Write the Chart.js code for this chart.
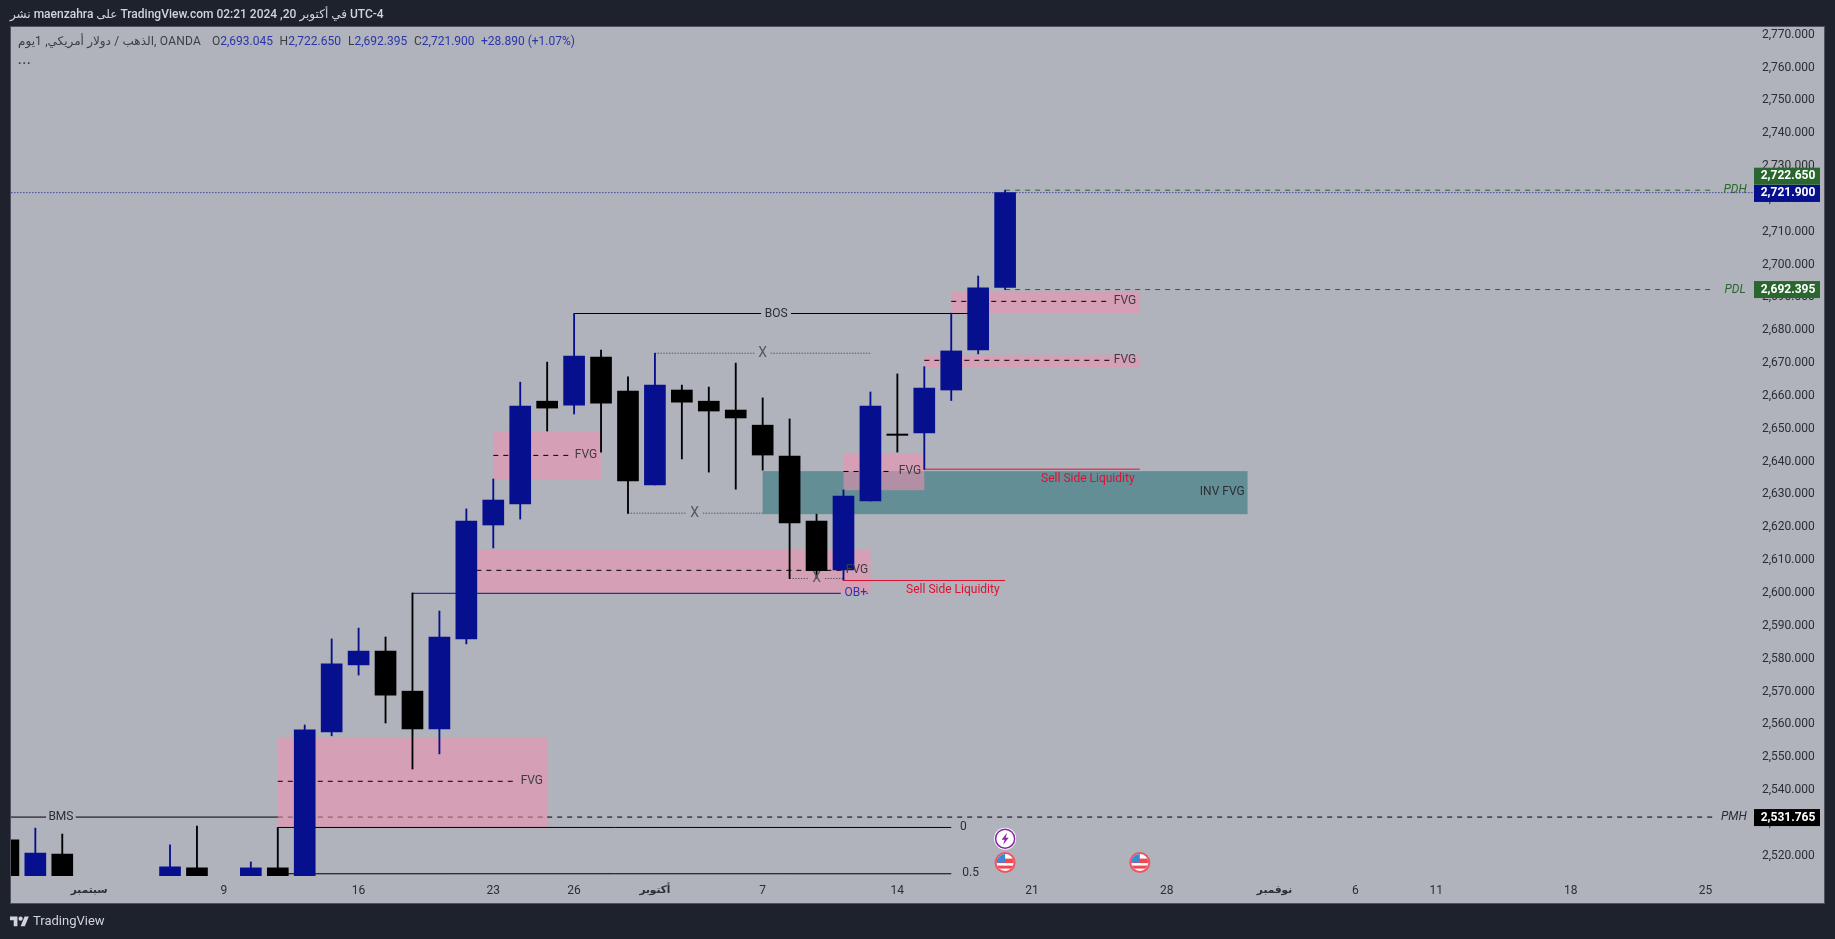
<!DOCTYPE html>
<html lang="ar">
<head>
<meta charset="utf-8">
<title>XAUUSD 1D</title>
<style>html,body{margin:0;padding:0;background:#1e222d;overflow:hidden}canvas{display:block}</style>
<script src="https://cdn.jsdelivr.net/npm/chart.js@4"></script>
</head>
<body>
<canvas id="c" width="1835" height="939"></canvas>
<script>
// ---- candle values, one entry per trading day from 28 Aug 2024 ----
const opens  = [2524.8,2505,2520.5,null,null,null,2500,2516.3,null,2505,2516.3,2510,2557.7,2578.1,2582.3,2570.1,2558.6,2586,2620.7,2627.1,2658.4,2657.2,2671.8,2661.5,2632.9,2661.8,2658.4,2655.7,2651.1,2641.7,2621.9,2607,2628,2648.4,2648.7,2661.8,2674,2693.045];
const highs  = [2526,2528.4,2526.6,null,null,null,2523.3,2529,null,2518.1,2528.6,2559.8,2586,2589.3,2586.6,2600,2594.5,2625.6,2634.7,2664.2,2670.3,2685.1,2674,2665.8,2673,2663.3,2662.7,2670,2659.4,2653,2624,2631.4,2661.2,2666.7,2668.9,2685.2,2696.5,2722.65];
const lows   = [2503,2503,2500,null,null,null,2490,2485,null,2500,2505,2505,2556.5,2575,2560.4,2546.4,2551,2584.5,2613.7,2622.5,2649.3,2654.5,2642.9,2624.2,2632.9,2640.8,2636.8,2631.6,2637.4,2604.4,2604.5,2603.9,2628,2642.9,2637.6,2658.6,2672.8,2692.395];
const closes = [2505,2520.8,2503,null,null,null,2516.6,2497,null,2516.3,2510,2558.3,2578.4,2582.3,2568.9,2558.6,2586.6,2621.9,2628.3,2656.9,2656.3,2672.1,2657.8,2634.1,2663.3,2658.1,2655.4,2653.3,2642,2621.3,2606.8,2629.5,2656.9,2648,2662.4,2673.7,2692.9,2721.9];

// ---- axis ticks ----
const priceTicks = [2520,2530,2540,2550,2560,2570,2580,2590,2600,2610,2620,2630,2640,2650,2660,2670,2680,2690,2700,2710,2720,2730,2740,2750,2760,2770];
const timeTickBars = [3,8,13,18,21,24,28,33,38,43,47,50,53,58,63];
const timeTickNames = ['سبتمبر','9','16','23','26','أكتوبر','7','14','21','28','نوفمبر','6','11','18','25'];
const boldTimeTicks = ['سبتمبر','أكتوبر','نوفمبر'];

// ---- drawn zones: from bar, to bar, upper price, lower price ----
const tealZones = [[28,46,2637.1,2624]];
const pinkZones = [[10,20,2556.15,2528.75],[18,22,2649.1,2634.7],[17,32,2613.3,2599.7],[31,34,2642.6,2631.3],[35,42,2691.95,2685.2],[34,42,2672.5,2668.8]];

// ---- drawn levels: from bar, to bar, price, style name ----
const levels = [
 [10,18.8,2542.66,'dash'],[18,20.9,2641.9,'dash'],[17,31,2606.9,'dash'],[31,32.84,2637,'dash'],[35,40.9,2688.8,'dash'],[34,40.9,2670.85,'dash'],
 [21,27.94,2685.1,'solid'],[29.05,36,2685.1,'solid'],
 [24,27.71,2673,'dots'],[28.3,32,2673,'dots'],
 [23,25.15,2624.3,'dots'],[25.78,28,2624.3,'dots'],
 [29,29.72,2604.4,'dots'],[30.31,31,2604.4,'dots'],
 [15,30.9,2599.9,'blue'],[31.85,32,2599.9,'blueDots'],
 [31,37,2603.8,'red'],[34,42,2637.7,'red'],
 [0,1.4,2531.765,'solid'],[2.5,10,2531.765,'solid'],
 [20,63.35,2531.765,'dash'],
 [10,35,2528.6,'solid'],[10,35,2514.5,'solid'],
 [37,63.35,2722.65,'green'],[37,63.35,2692.395,'green'],
 [0,64.8,2721.9,'lastDots']
];
const fadedLevels = [[10,20,2531.765]];

// ---- texts placed on the chart: bar, price, text, style name ----
const chartLabels = [
 [19.43,2542.66,'FVG','fvg'],[21.44,2641.9,'FVG','fvg'],[31.5,2606.9,'FVG','fvg'],[33.47,2637,'FVG','fvg'],[41.45,2688.8,'FVG','fvg'],[41.45,2670.85,'FVG','fvg'],
 [28.5,2685.1,'BOS','dark'],[1.95,2531.765,'BMS','dark'],[45.06,2630.8,'INV FVG','dark'],
 [28,2673,'X','gray'],[25.47,2624.3,'X','gray'],[30,2604.4,'X','gray'],
 [31.46,2599.9,'OB+','blue'],
 [35.06,2601,'Sell Side Liquidity','red'],[40.07,2634.8,'Sell Side Liquidity','red'],
 [35.45,2528.7,'0','dark'],[35.72,2514.8,'0.5','dark'],
 [64.1,2722.65,'PDH','greenItalic'],[64.1,2692.395,'PDL','greenItalic'],[64.05,2531.765,'PMH','darkItalic']
];

// ---- right-hand price tags: price, text, colour, vertical shift ----
const priceTags = [
 [2722.65,'2,722.650','#2a672e',-14],
 [2721.9,'2,721.900','#06108f',0.8],
 [2692.395,'2,692.395','#2a672e',0],
 [2531.765,'2,531.765','#000000',0.5]
];
// ---- event markers: bar, price, kind ----
const eventMarks = [[37,2525.2,'bolt'],[37,2517.9,'flag'],[42,2517.9,'flag']];

const BLUE='#06108f', BLACK='#000000', PANEL='#b0b3bc', FRAME='#1e222d';
const FONT="Roboto, 'DejaVu Sans', sans-serif";
Chart.defaults.font.family = FONT;
Chart.defaults.font.size = 12;

const candleBars = opens.map((o,i)=>i).filter(i=>opens[i]!==null);
const isUp = i => closes[i] >= opens[i];
const candleColors = candleBars.map(i=>isUp(i)?BLUE:BLACK);

const levelStyles = {
 dash:{c:'#000000',d:[5,5],w:1}, solid:{c:'#000000',d:[],w:1}, dots:{c:'#55565f',d:[1.4,1.4],w:1},
 blue:{c:BLUE,d:[],w:1}, blueDots:{c:BLUE,d:[1.5,3],w:1}, red:{c:'#df1030',d:[],w:1},
 green:{c:'#2a672e',d:[5,5],w:1}, lastDots:{c:BLUE,d:[1,2],w:1}
};
const levelDatasets = levels.map(l=>{
 const s=levelStyles[l[3]];
 return {type:'line',order:l[3]==='lastDots'?0:5,data:[{x:l[0],y:l[2]},{x:l[1],y:l[2]}],borderColor:s.c,borderDash:s.d,borderWidth:s.w,pointRadius:0,tension:0,fill:false};
});
const fadedDatasets = fadedLevels.map(l=>({type:'line',order:9,data:[{x:l[0],y:l[2]},{x:l[1],y:l[2]}],borderColor:'#000000',borderDash:[5,5],borderWidth:1,pointRadius:0,fill:false}));

const labelFonts = {
 fvg:{f:'12px '+FONT,c:'#3e3a44'},dark:{f:'12px '+FONT,c:'#2c2d33'},gray:{f:'14px '+FONT,c:'#55565f'},blue:{f:'12px '+FONT,c:'#2a35a8'},
 red:{f:'12px '+FONT,c:'#df1030'},greenItalic:{f:'italic 12px '+FONT,c:'#2a672e'},darkItalic:{f:'italic 12px '+FONT,c:'#2c2d33'}
};

const zonesPlugin = {
 id:'zones',
 beforeDatasetDraw(chart,args){
  if(args.meta.order!==8) return;
  const {ctx,scales:{x,y}}=chart, a=chart.chartArea;
  ctx.save();ctx.beginPath();ctx.rect(a.left,a.top,a.width,a.height);ctx.clip();
  const fill=(z,col)=>{ctx.fillStyle=col;ctx.fillRect(x.getPixelForValue(z[0]),y.getPixelForValue(z[2]),x.getPixelForValue(z[1])-x.getPixelForValue(z[0]),y.getPixelForValue(z[3])-y.getPixelForValue(z[2]));};
  tealZones.forEach(z=>fill(z,'#638e96'));
  pinkZones.forEach(z=>fill(z,'rgba(243,145,176,0.56)'));
  ctx.restore();
 },
 beforeDraw(chart){
  const {ctx}=chart;
  ctx.save();
  ctx.fillStyle=FRAME;ctx.fillRect(0,0,1835,939);
  ctx.fillStyle=PANEL;ctx.fillRect(10,27,1815,876);
  ctx.strokeStyle='#50535e';ctx.lineWidth=1;ctx.strokeRect(10.5,26.5,1814,877);
  ctx.restore();
 },
 afterDatasetsDraw(chart){
  const {ctx,scales:{x,y}}=chart, a=chart.chartArea;
  ctx.save();ctx.beginPath();ctx.rect(a.left,a.top,a.width,a.height);ctx.clip();
  ctx.textAlign='center';ctx.textBaseline='middle';
  chartLabels.forEach(l=>{const s=labelFonts[l[3]];ctx.font=s.f;ctx.fillStyle=s.c;ctx.fillText(l[2],x.getPixelForValue(l[0]),y.getPixelForValue(l[1]));});
  eventMarks.forEach(m=>drawMark(ctx,x.getPixelForValue(m[0]),y.getPixelForValue(m[1]),m[2]));
  ctx.restore();
 },
 afterDraw(chart){
  const {ctx,scales:{y}}=chart;
  ctx.save();
  ctx.textBaseline='middle';ctx.textAlign='left';ctx.direction='ltr';
  // tags
  priceTags.forEach(t=>{
   const py=y.getPixelForValue(t[0])+t[3];
   ctx.fillStyle=t[2];ctx.fillRect(1754,py-8.5,66,17);
   ctx.fillStyle='#ffffff';ctx.font='bold 12px '+FONT;ctx.textAlign='center';ctx.fillText(t[1],1788,py);
  });
  ctx.textAlign='left';
  // header
  ctx.font='500 12px '+FONT;ctx.fillStyle='#d1d4dc';
  ctx.fillText('نشر maenzahra على TradingView.com في أكتوبر 20, 2024 02:21 UTC-4',10,15);
  // legend line
  ctx.font='12px '+FONT;ctx.fillStyle='#3c3d44';
  ctx.letterSpacing='0.25px';
  ctx.fillText('الذهب / دولار أمريكي, 1يوم, OANDA',18,42);
  ctx.letterSpacing='0px';
  const ohlc=[['O','2,693.045',212],['H','2,722.650',279.6],['L','2,692.395',348],['C','2,721.900',414]];
  ohlc.forEach(o=>{
   ctx.fillStyle='#3c3d44';ctx.fillText(o[0],o[2],42);
   const w=ctx.measureText(o[0]).width;
   ctx.fillStyle='#2a35a8';ctx.fillText(o[1],o[2]+w,42);
  });
  ctx.fillStyle='#2a35a8';ctx.fillText('+28.890 (+1.07%)',481,42);
  ctx.fillStyle='#3c3d44';ctx.font='bold 12px '+FONT;ctx.letterSpacing='1px';ctx.fillText('...',18,60.5);ctx.letterSpacing='0px';
  // logo
  ctx.save();ctx.translate(10,914.5);ctx.scale(.53,.53);ctx.fillStyle='#d1d4dc';
  ctx.fill(new Path2D('M14 22H7V11H0V4h14v18zM28 22h-8l7.5-18h8L28 22z'));
  ctx.beginPath();ctx.arc(20,8,4,0,Math.PI*2);ctx.fill();ctx.restore();
  ctx.font='13px '+FONT;ctx.fillStyle='#d1d4dc';ctx.fillText('TradingView',33,921.5);
  ctx.restore();
 }
};
function drawMark(ctx,cx,cy,kind){
 ctx.save();
 if(kind==='bolt'){
  ctx.beginPath();ctx.arc(cx,cy,11,0,Math.PI*2);ctx.fillStyle='#ffffff';ctx.fill();
  ctx.beginPath();ctx.arc(cx,cy,9.5,0,Math.PI*2);ctx.strokeStyle='#8e24aa';ctx.lineWidth=1.5;ctx.stroke();
  ctx.fillStyle='#8e24aa';ctx.beginPath();
  ctx.moveTo(cx+2,cy-6);ctx.lineTo(cx-3.5,cy+1);ctx.lineTo(cx-.5,cy+1);ctx.lineTo(cx-2,cy+6);ctx.lineTo(cx+3.5,cy-1);ctx.lineTo(cx+.5,cy-1);ctx.closePath();ctx.fill();
 }else{
  ctx.beginPath();ctx.arc(cx,cy,10.5,0,Math.PI*2);ctx.fillStyle='#f0555f';ctx.fill();
  ctx.beginPath();ctx.arc(cx,cy,8.5,0,Math.PI*2);ctx.fillStyle='#ffffff';ctx.fill();ctx.clip();
  ctx.fillStyle='#ef4a53';ctx.fillRect(cx-9,cy-4,18,4.5);ctx.fillRect(cx-9,cy+3,18,3);
  ctx.fillStyle='#3b8ad8';ctx.fillRect(cx-9,cy-9,9,9);
 }
 ctx.restore();
}

new Chart(document.getElementById('c'),{
 type:'bar',
 plugins:[zonesPlugin],
 data:{datasets:[
  ...fadedDatasets,
  {type:'line',order:8,data:[],pointRadius:0,borderWidth:0},
  ...levelDatasets,
  {type:'bar',order:3,grouped:false,barThickness:1.2,borderWidth:0,
   data:candleBars.map(i=>({x:i,y:[lows[i],highs[i]]})),backgroundColor:candleColors},
  {type:'bar',order:2,grouped:false,barThickness:21,borderWidth:0,minBarLength:1,
   data:candleBars.map(i=>({x:i,y:[Math.min(opens[i],closes[i]),Math.max(opens[i],closes[i])]})),backgroundColor:candleColors}
 ]},
 options:{
  responsive:false,animation:false,devicePixelRatio:1,
  layout:{padding:{left:11,top:27,right:10,bottom:36}},
  plugins:{legend:{display:false},tooltip:{enabled:false},title:{display:false}},
  scales:{
   x:{type:'linear',offset:false,min:0.0965,max:64.8,
    grid:{display:false,drawTicks:false,offset:false},border:{display:false},
    afterBuildTicks:s=>{s.ticks=timeTickBars.map(v=>({value:v}));},
    afterFit:s=>{s.height=27;},
    ticks:{autoSkip:false,maxRotation:0,minRotation:0,padding:8,color:'#2c2d33',
     font:c=>{const n=timeTickNames[timeTickBars.indexOf(c.tick&&c.tick.value)];const b=boldTimeTicks.includes(n);return {size:b?10.5:12,weight:b?'bold':'normal'};},
     callback:v=>timeTickNames[timeTickBars.indexOf(v)]}},
   y:{type:'linear',position:'right',min:2513.82,max:2772.34,
    grid:{display:false,drawTicks:false},border:{display:false},
    afterBuildTicks:s=>{s.ticks=priceTicks.map(v=>({value:v}));},
    afterFit:s=>{s.width=71;},
    ticks:{autoSkip:false,padding:8,color:'#2c2d33',
     callback:v=>Math.floor(v/1000)+','+String(v%1000).padStart(3,'0')+'.000'}}
  }
 }
});
</script>
</body>
</html>
